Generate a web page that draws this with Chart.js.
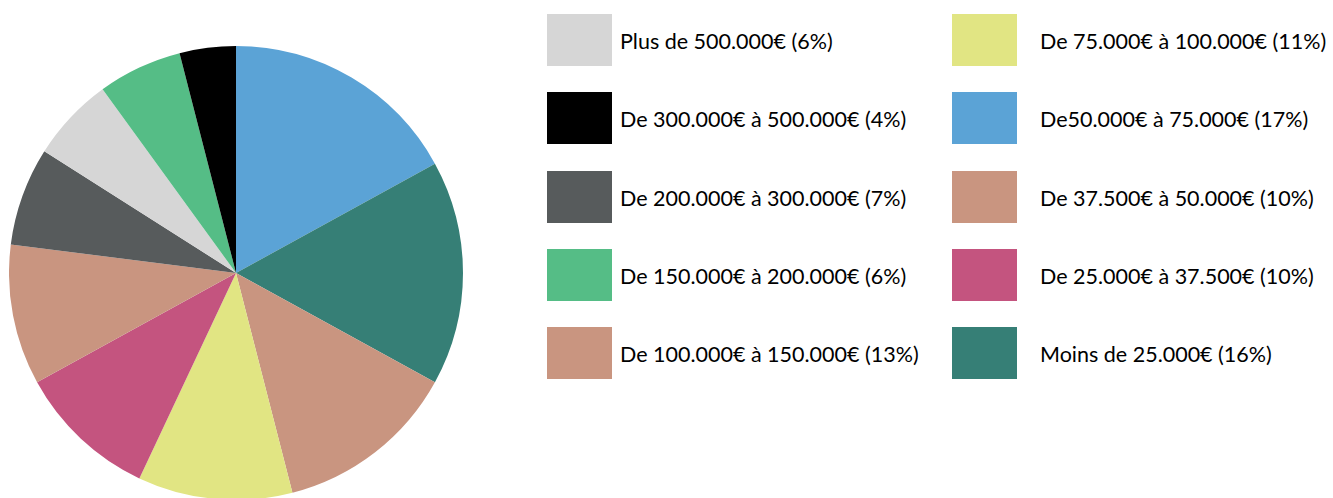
<!DOCTYPE html>
<html lang="fr">
<head>
<meta charset="utf-8">
<title>Revenus</title>
<script src="https://cdn.jsdelivr.net/npm/chart.js@4/dist/chart.umd.min.js"></script>
<style>
	html, body { margin: 0; padding: 0; background: #fff; }
	body { width: 1333px; height: 498px; overflow: hidden; position: relative; font-family: "Lato", "Open Sans", sans-serif; }
	#pie-wrap { position: absolute; left: 9px; top: 46px; width: 454px; height: 454px; }
	.legend-item { position: absolute; height: 52px; display: flex; align-items: center; white-space: nowrap; }
	.legend-box { width: 65px; height: 52px; flex: none; }
	.legend-text { font-size: 21.5px; color: #000; padding-top: 2px; }
</style>
</head>
<body>
<div id="pie-wrap"><canvas id="pie"></canvas></div>
<div id="legend"></div>
<script>
// slices, clockwise from 12 o'clock
var categories = [
	"De50.000€ à 75.000€",
	"Moins de 25.000€",
	"De 100.000€ à 150.000€",
	"De 75.000€ à 100.000€",
	"De 25.000€ à 37.500€",
	"De 37.500€ à 50.000€",
	"De 200.000€ à 300.000€",
	"Plus de 500.000€",
	"De 150.000€ à 200.000€",
	"De 300.000€ à 500.000€"
];
var shares = [17, 16, 13, 11, 10, 10, 7, 6, 6, 4];
var colours = [
	"#5ba3d6",
	"#367f76",
	"#c99580",
	"#e1e583",
	"#c4547f",
	"#c99580",
	"#575b5c",
	"#d6d6d6",
	"#55bd86",
	"#000000"
];
// legend order, two columns (indexes into categories)
var legendLeft = [7, 9, 6, 8, 2];
var legendRight = [3, 0, 5, 4, 1];

document.addEventListener("DOMContentLoaded", function () {
	
	renderPie();
	renderLegend();
	
});

/**
 * Renders the pie
 */
function renderPie() {
	
	new Chart(document.getElementById("pie"), {
		type						 :	"pie",
		data						 :	{
			labels					 :	categories,
			datasets				 :	[{
				data				 :	shares,
				backgroundColor		 :	colours,
				borderWidth			 :	0
			}]
		},
		options						 :	{
			responsive				 :	true,
			maintainAspectRatio		 :	false,
			animation				 :	false,
			layout					 :	{ padding: 0 },
			plugins					 :	{
				legend				 :	{ display: false },
				tooltip				 :	{ enabled: false }
			}
		}
	});
	
}

/**
 * Builds the two column legend
 */
function renderLegend() {
	
	var legend						 =	document.getElementById("legend");
	var columns						 =	[
		{ items: legendLeft, boxX: 547, textGap: 8 },
		{ items: legendRight, boxX: 952, textGap: 23 }
	];
	
	columns.forEach(function (column) {
		
		column.items.forEach(function (index, row) {
			
			var item				 =	document.createElement("div");
			item.className			 =	"legend-item";
			item.style.left			 =	column.boxX + "px";
			item.style.top			 =	(14 + row * 78.25) + "px";
			
			var box					 =	document.createElement("div");
			box.className			 =	"legend-box";
			box.style.background	 =	colours[index];
			box.style.marginRight	 =	column.textGap + "px";
			
			var text				 =	document.createElement("span");
			text.className			 =	"legend-text";
			text.textContent		 =	categories[index] + " (" + shares[index] + "%)";
			
			item.appendChild(box);
			item.appendChild(text);
			legend.appendChild(item);
			
		});
		
	});
	
}
</script>
</body>
</html>
